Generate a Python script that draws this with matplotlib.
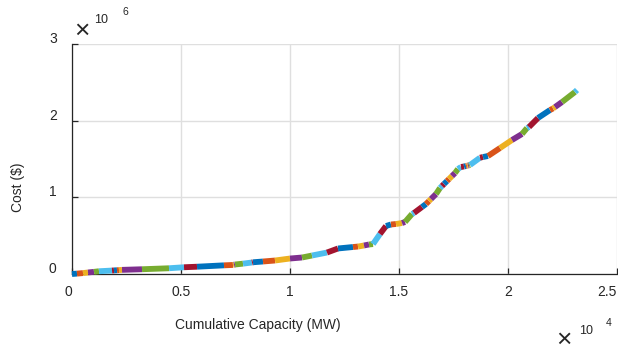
"""Supply curve: cumulative cost against cumulative capacity, one colour per unit."""
import matplotlib

matplotlib.use("Agg")
import matplotlib.pyplot as plt
from matplotlib.transforms import ScaledTranslation

# breakpoints of the stacked units (cumulative capacity, cumulative cost)
cum_capacity_mw = [
    0, 229, 505, 734, 1009, 1239, 1835, 1927, 2064, 2156, 2294, 3211, 4450,
    5138, 5734, 6972, 7385, 7431, 7477, 7844, 8257, 8303, 8761, 9312, 10000,
    10550, 11009, 11697, 12202, 12890, 13119, 13394, 13624, 13807, 14128,
    14404, 14633, 14862, 15138, 15275, 15596, 15688, 16055, 16239, 16376,
    16468, 16697, 16881, 16972, 17064, 17202, 17294, 17431, 17569, 17706,
    17844, 17982, 18073, 18119, 18165, 18211, 18257, 18716, 18853, 19083,
    19633, 20183, 20642, 20872, 20963, 21376, 21927, 22064, 22156, 22477,
    23073, 23165,
]
cum_cost_usd = [
    0, 5000, 12000, 20000, 28000, 36000, 45000, 47000, 49000, 51000, 54000,
    62000, 75000, 88000, 95000, 113000, 118000, 121000, 124000, 135000,
    150000, 153000, 163000, 176000, 202000, 215000, 241000, 280000, 333000,
    352000, 358000, 372000, 385000, 390000, 522000, 626000, 646000, 652000,
    665000, 678000, 783000, 796000, 874000, 913000, 952000, 978000, 1043000,
    1122000, 1148000, 1174000, 1213000, 1239000, 1278000, 1317000, 1370000,
    1396000, 1402000, 1409000, 1412000, 1415000, 1418000, 1422000, 1517000,
    1526000, 1539000, 1643000, 1748000, 1826000, 1904000, 1917000, 2035000,
    2139000, 2159000, 2178000, 2243000, 2374000, 2400000,
]

x_ticks = [0, 5000, 10000, 15000, 20000, 25000]
x_tick_labels = ["0", "0.5", "1", "1.5", "2", "2.5"]
y_ticks = [0, 1e6, 2e6, 3e6]
y_tick_labels = ["0", "1", "2", "3"]

# MATLAB default colour order
UNIT_COLORS = (
    "#0072BD", "#D95319", "#EDB120", "#7E2F8E",
    "#77AC30", "#4DBEEE", "#A2142F",
)
TEXT_COLOR = "#262626"

plt.rcParams["font.family"] = ["Liberation Sans", "DejaVu Sans"]
plt.rcParams["font.size"] = 10

fig = plt.figure(figsize=(6.18, 3.52), dpi=100)
ax = fig.add_axes([72 / 618, 78 / 352, 545 / 618, 230 / 352])

for i in range(len(cum_capacity_mw) - 1):
    ax.plot(
        cum_capacity_mw[i:i + 2],
        cum_cost_usd[i:i + 2],
        color=UNIT_COLORS[i % len(UNIT_COLORS)],
        linewidth=4.2,
        solid_capstyle="butt",
        clip_on=False,
        zorder=3,
    )

ax.set_xlim(0, 25000)
ax.set_ylim(0, 3e6)
ax.set_xticks(x_ticks, x_tick_labels)
ax.set_yticks(y_ticks, y_tick_labels)
ax.grid(True, color="#dfdfdf", linewidth=1.0)
ax.set_axisbelow(True)
for side in ("top", "right"):
    ax.spines[side].set_visible(False)
for side in ("left", "bottom"):
    ax.spines[side].set_color(TEXT_COLOR)
    ax.spines[side].set_linewidth(0.9)
ax.tick_params(direction="in", length=4.5, width=0.9, colors=TEXT_COLOR,
               labelsize=10)
ax.tick_params(axis="y", pad=11)
ax.tick_params(axis="x", pad=8)

# MATLAB draws the y tick labels a little above their grid lines
shift_up = ScaledTranslation(0, 0.065, fig.dpi_scale_trans)
for label in ax.get_yticklabels():
    label.set_transform(label.get_transform() + shift_up)
x_labels = ax.get_xticklabels()
x_labels[0].set_transform(x_labels[0].get_transform()
                          + ScaledTranslation(-0.04, 0, fig.dpi_scale_trans))
x_labels[-1].set_horizontalalignment("right")

fig.text(258 / 618, 1 - 325 / 352, "Cumulative Capacity (MW)",
         ha="center", va="center", color=TEXT_COLOR, fontsize=10)
fig.text(18 / 618, 1 - 187 / 352, "Cost ($)", rotation=90,
         ha="center", va="center", color=TEXT_COLOR, fontsize=10)

# exponent multipliers, laid out the way the source renders them
fig.text(82 / 618, 1 - 31 / 352, "×", ha="center", va="center",
         color=TEXT_COLOR, fontsize=19)
fig.text(101 / 618, 1 - 20 / 352, "10", ha="center", va="center",
         color=TEXT_COLOR, fontsize=9)
fig.text(125 / 618, 1 - 12 / 352, "6", ha="center", va="center",
         color=TEXT_COLOR, fontsize=7.5)
fig.text(564 / 618, 1 - 340 / 352, "×", ha="center", va="center",
         color=TEXT_COLOR, fontsize=19)
fig.text(586 / 618, 1 - 331 / 352, "10", ha="center", va="center",
         color=TEXT_COLOR, fontsize=9)
fig.text(609 / 618, 1 - 323 / 352, "4", ha="center", va="center",
         color=TEXT_COLOR, fontsize=7.5)

fig.savefig("out.png", dpi=100)
